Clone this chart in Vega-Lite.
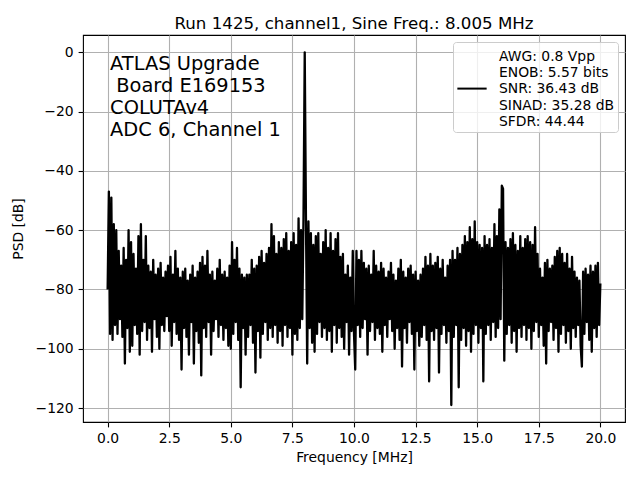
{
  "$schema": "https://vega.github.io/schema/vega-lite/v6.json",
  "width": 542,
  "height": 387,
  "autosize": {"type": "none"},
  "padding": {"left": 83, "top": 35, "right": 15, "bottom": 58},
  "background": "white",
  "config": {
    "font": "DejaVu Sans",
    "view": {"stroke": "black", "strokeWidth": 1.1},
    "axis": {
      "domain": false,
      "grid": true,
      "gridColor": "#b0b0b0",
      "gridWidth": 1.1,
      "tickColor": "black",
      "tickSize": 4.9,
      "tickWidth": 1.1,
      "labelPadding": 4.9,
      "labelFont": "DejaVu Sans",
      "labelFontSize": 13.9,
      "labelColor": "black",
      "titleFont": "DejaVu Sans",
      "titleFontSize": 13.9,
      "titleFontWeight": "normal",
      "titleColor": "black",
      "titlePadding": 5
    }
  },
  "title": {
    "text": "Run 1425, channel1, Sine Freq.: 8.005 MHz",
    "font": "DejaVu Sans",
    "fontSize": 16.67,
    "fontWeight": "normal",
    "color": "black",
    "anchor": "middle",
    "baseline": "alphabetic",
    "offset": 8,
    "dy": 19
  },
  "data": {
    "values": [
      {"f": 0.00, "p": -80}, {"f": 0.05, "p": -47}, {"f": 0.10, "p": -95}, {"f": 0.15, "p": -49}, {"f": 0.20, "p": -97},
      {"f": 0.25, "p": -58}, {"f": 0.30, "p": -92}, {"f": 0.35, "p": -60}, {"f": 0.40, "p": -95}, {"f": 0.45, "p": -67},
      {"f": 0.50, "p": -90}, {"f": 0.55, "p": -72}, {"f": 0.60, "p": -96}, {"f": 0.65, "p": -66}, {"f": 0.70, "p": -105},
      {"f": 0.75, "p": -70}, {"f": 0.80, "p": -93}, {"f": 0.85, "p": -60}, {"f": 0.90, "p": -101}, {"f": 0.95, "p": -64},
      {"f": 1.00, "p": -99}, {"f": 1.05, "p": -68}, {"f": 1.10, "p": -92}, {"f": 1.15, "p": -73}, {"f": 1.20, "p": -95},
      {"f": 1.25, "p": -62}, {"f": 1.30, "p": -102}, {"f": 1.35, "p": -58}, {"f": 1.40, "p": -94}, {"f": 1.45, "p": -70},
      {"f": 1.50, "p": -91}, {"f": 1.55, "p": -62}, {"f": 1.60, "p": -97}, {"f": 1.65, "p": -72}, {"f": 1.70, "p": -93},
      {"f": 1.75, "p": -74}, {"f": 1.80, "p": -101}, {"f": 1.85, "p": -70}, {"f": 1.90, "p": -90}, {"f": 1.95, "p": -75},
      {"f": 2.00, "p": -96}, {"f": 2.05, "p": -73}, {"f": 2.10, "p": -100}, {"f": 2.15, "p": -71}, {"f": 2.20, "p": -92},
      {"f": 2.25, "p": -76}, {"f": 2.30, "p": -94}, {"f": 2.35, "p": -74}, {"f": 2.40, "p": -89}, {"f": 2.45, "p": -72},
      {"f": 2.50, "p": -94}, {"f": 2.55, "p": -69}, {"f": 2.60, "p": -99}, {"f": 2.65, "p": -75}, {"f": 2.70, "p": -91},
      {"f": 2.75, "p": -67}, {"f": 2.80, "p": -95}, {"f": 2.85, "p": -73}, {"f": 2.90, "p": -97}, {"f": 2.95, "p": -76},
      {"f": 3.00, "p": -107}, {"f": 3.05, "p": -74}, {"f": 3.10, "p": -93}, {"f": 3.15, "p": -73}, {"f": 3.20, "p": -96},
      {"f": 3.25, "p": -77}, {"f": 3.30, "p": -102}, {"f": 3.35, "p": -75}, {"f": 3.40, "p": -91}, {"f": 3.45, "p": -72},
      {"f": 3.50, "p": -105}, {"f": 3.55, "p": -76}, {"f": 3.60, "p": -94}, {"f": 3.65, "p": -74}, {"f": 3.70, "p": -98},
      {"f": 3.75, "p": -71}, {"f": 3.80, "p": -109}, {"f": 3.85, "p": -69}, {"f": 3.90, "p": -93}, {"f": 3.95, "p": -72},
      {"f": 4.00, "p": -96}, {"f": 4.05, "p": -67}, {"f": 4.10, "p": -91}, {"f": 4.15, "p": -75}, {"f": 4.20, "p": -102},
      {"f": 4.25, "p": -74}, {"f": 4.30, "p": -94}, {"f": 4.35, "p": -77}, {"f": 4.40, "p": -90}, {"f": 4.45, "p": -73},
      {"f": 4.50, "p": -96}, {"f": 4.55, "p": -70}, {"f": 4.60, "p": -92}, {"f": 4.65, "p": -75}, {"f": 4.70, "p": -97},
      {"f": 4.75, "p": -74}, {"f": 4.80, "p": -93}, {"f": 4.85, "p": -76}, {"f": 4.90, "p": -99}, {"f": 4.95, "p": -72},
      {"f": 5.00, "p": -100}, {"f": 5.05, "p": -64}, {"f": 5.10, "p": -95}, {"f": 5.15, "p": -70}, {"f": 5.20, "p": -91},
      {"f": 5.25, "p": -66}, {"f": 5.30, "p": -97}, {"f": 5.35, "p": -73}, {"f": 5.40, "p": -113}, {"f": 5.45, "p": -75},
      {"f": 5.50, "p": -93}, {"f": 5.55, "p": -76}, {"f": 5.60, "p": -102}, {"f": 5.65, "p": -75}, {"f": 5.70, "p": -96},
      {"f": 5.75, "p": -75}, {"f": 5.80, "p": -92}, {"f": 5.85, "p": -70}, {"f": 5.90, "p": -98}, {"f": 5.95, "p": -73},
      {"f": 6.00, "p": -108}, {"f": 6.05, "p": -72}, {"f": 6.10, "p": -94}, {"f": 6.15, "p": -69}, {"f": 6.20, "p": -103},
      {"f": 6.25, "p": -67}, {"f": 6.30, "p": -95}, {"f": 6.35, "p": -71}, {"f": 6.40, "p": -91}, {"f": 6.45, "p": -68},
      {"f": 6.50, "p": -97}, {"f": 6.55, "p": -66}, {"f": 6.60, "p": -93}, {"f": 6.65, "p": -58}, {"f": 6.70, "p": -96},
      {"f": 6.75, "p": -62}, {"f": 6.80, "p": -92}, {"f": 6.85, "p": -68}, {"f": 6.90, "p": -98}, {"f": 6.95, "p": -64},
      {"f": 7.00, "p": -94}, {"f": 7.05, "p": -66}, {"f": 7.10, "p": -99}, {"f": 7.15, "p": -63}, {"f": 7.20, "p": -92},
      {"f": 7.25, "p": -61}, {"f": 7.30, "p": -96}, {"f": 7.35, "p": -67}, {"f": 7.40, "p": -93}, {"f": 7.45, "p": -64},
      {"f": 7.50, "p": -102}, {"f": 7.55, "p": -61}, {"f": 7.60, "p": -95}, {"f": 7.65, "p": -65}, {"f": 7.70, "p": -97},
      {"f": 7.75, "p": -56}, {"f": 7.80, "p": -93}, {"f": 7.85, "p": -60}, {"f": 7.90, "p": -90}, {"f": 7.95, "p": -56},
      {"f": 8.00, "p": 0}, {"f": 8.05, "p": -56}, {"f": 8.10, "p": -105}, {"f": 8.15, "p": -57}, {"f": 8.20, "p": -93},
      {"f": 8.25, "p": -61}, {"f": 8.30, "p": -98}, {"f": 8.35, "p": -65}, {"f": 8.40, "p": -101}, {"f": 8.45, "p": -62},
      {"f": 8.50, "p": -95}, {"f": 8.55, "p": -61}, {"f": 8.60, "p": -91}, {"f": 8.65, "p": -68}, {"f": 8.70, "p": -96},
      {"f": 8.75, "p": -64}, {"f": 8.80, "p": -93}, {"f": 8.85, "p": -60}, {"f": 8.90, "p": -97}, {"f": 8.95, "p": -66},
      {"f": 9.00, "p": -94}, {"f": 9.05, "p": -61}, {"f": 9.10, "p": -101}, {"f": 9.15, "p": -67}, {"f": 9.20, "p": -92},
      {"f": 9.25, "p": -63}, {"f": 9.30, "p": -98}, {"f": 9.35, "p": -61}, {"f": 9.40, "p": -93}, {"f": 9.45, "p": -69},
      {"f": 9.50, "p": -96}, {"f": 9.55, "p": -68}, {"f": 9.60, "p": -100}, {"f": 9.65, "p": -75}, {"f": 9.70, "p": -91},
      {"f": 9.75, "p": -72}, {"f": 9.80, "p": -102}, {"f": 9.85, "p": -76}, {"f": 9.90, "p": -94}, {"f": 9.95, "p": -67},
      {"f": 10.00, "p": -95}, {"f": 10.05, "p": -107}, {"f": 10.10, "p": -67}, {"f": 10.15, "p": -92}, {"f": 10.20, "p": -70},
      {"f": 10.25, "p": -96}, {"f": 10.30, "p": -67}, {"f": 10.35, "p": -93}, {"f": 10.40, "p": -71}, {"f": 10.45, "p": -90},
      {"f": 10.50, "p": -73}, {"f": 10.55, "p": -102}, {"f": 10.60, "p": -72}, {"f": 10.65, "p": -94}, {"f": 10.70, "p": -75},
      {"f": 10.75, "p": -91}, {"f": 10.80, "p": -67}, {"f": 10.85, "p": -97}, {"f": 10.90, "p": -72}, {"f": 10.95, "p": -93},
      {"f": 11.00, "p": -74}, {"f": 11.05, "p": -95}, {"f": 11.10, "p": -71}, {"f": 11.15, "p": -101}, {"f": 11.20, "p": -73},
      {"f": 11.25, "p": -92}, {"f": 11.30, "p": -76}, {"f": 11.35, "p": -96}, {"f": 11.40, "p": -74}, {"f": 11.45, "p": -90},
      {"f": 11.50, "p": -71}, {"f": 11.55, "p": -94}, {"f": 11.60, "p": -75}, {"f": 11.65, "p": -100}, {"f": 11.70, "p": -77},
      {"f": 11.75, "p": -93}, {"f": 11.80, "p": -73}, {"f": 11.85, "p": -97}, {"f": 11.90, "p": -70}, {"f": 11.95, "p": -106},
      {"f": 12.00, "p": -74}, {"f": 12.05, "p": -93}, {"f": 12.10, "p": -76}, {"f": 12.15, "p": -98}, {"f": 12.20, "p": -73},
      {"f": 12.25, "p": -91}, {"f": 12.30, "p": -72}, {"f": 12.35, "p": -95}, {"f": 12.40, "p": -75}, {"f": 12.45, "p": -107},
      {"f": 12.50, "p": -74}, {"f": 12.55, "p": -94}, {"f": 12.60, "p": -77}, {"f": 12.65, "p": -99}, {"f": 12.70, "p": -75},
      {"f": 12.75, "p": -96}, {"f": 12.80, "p": -73}, {"f": 12.85, "p": -92}, {"f": 12.90, "p": -69}, {"f": 12.95, "p": -97},
      {"f": 13.00, "p": -72}, {"f": 13.05, "p": -111}, {"f": 13.10, "p": -68}, {"f": 13.15, "p": -94}, {"f": 13.20, "p": -72},
      {"f": 13.25, "p": -97}, {"f": 13.30, "p": -71}, {"f": 13.35, "p": -93}, {"f": 13.40, "p": -69}, {"f": 13.45, "p": -108},
      {"f": 13.50, "p": -73}, {"f": 13.55, "p": -95}, {"f": 13.60, "p": -70}, {"f": 13.65, "p": -92}, {"f": 13.70, "p": -76},
      {"f": 13.75, "p": -98}, {"f": 13.80, "p": -72}, {"f": 13.85, "p": -94}, {"f": 13.90, "p": -70}, {"f": 13.95, "p": -119},
      {"f": 14.00, "p": -67}, {"f": 14.05, "p": -96}, {"f": 14.10, "p": -70}, {"f": 14.15, "p": -92}, {"f": 14.20, "p": -66},
      {"f": 14.25, "p": -113}, {"f": 14.30, "p": -68}, {"f": 14.35, "p": -97}, {"f": 14.40, "p": -65}, {"f": 14.45, "p": -93},
      {"f": 14.50, "p": -62}, {"f": 14.55, "p": -99}, {"f": 14.60, "p": -64}, {"f": 14.65, "p": -94}, {"f": 14.70, "p": -59},
      {"f": 14.75, "p": -101}, {"f": 14.80, "p": -63}, {"f": 14.85, "p": -95}, {"f": 14.90, "p": -57}, {"f": 14.95, "p": -92},
      {"f": 15.00, "p": -64}, {"f": 15.05, "p": -98}, {"f": 15.10, "p": -65}, {"f": 15.15, "p": -93}, {"f": 15.20, "p": -66},
      {"f": 15.25, "p": -111}, {"f": 15.30, "p": -62}, {"f": 15.35, "p": -95}, {"f": 15.40, "p": -65}, {"f": 15.45, "p": -92},
      {"f": 15.50, "p": -63}, {"f": 15.55, "p": -97}, {"f": 15.60, "p": -66}, {"f": 15.65, "p": -91}, {"f": 15.70, "p": -58},
      {"f": 15.75, "p": -96}, {"f": 15.80, "p": -62}, {"f": 15.85, "p": -93}, {"f": 15.90, "p": -53}, {"f": 15.95, "p": -90},
      {"f": 16.00, "p": -45}, {"f": 16.05, "p": -46}, {"f": 16.10, "p": -104}, {"f": 16.15, "p": -64}, {"f": 16.20, "p": -95},
      {"f": 16.25, "p": -66}, {"f": 16.30, "p": -92}, {"f": 16.35, "p": -63}, {"f": 16.40, "p": -98}, {"f": 16.45, "p": -61},
      {"f": 16.50, "p": -94}, {"f": 16.55, "p": -65}, {"f": 16.60, "p": -101}, {"f": 16.65, "p": -67}, {"f": 16.70, "p": -93},
      {"f": 16.75, "p": -62}, {"f": 16.80, "p": -96}, {"f": 16.85, "p": -66}, {"f": 16.90, "p": -92}, {"f": 16.95, "p": -63},
      {"f": 17.00, "p": -97}, {"f": 17.05, "p": -62}, {"f": 17.10, "p": -93}, {"f": 17.15, "p": -64}, {"f": 17.20, "p": -100},
      {"f": 17.25, "p": -65}, {"f": 17.30, "p": -94}, {"f": 17.35, "p": -59}, {"f": 17.40, "p": -91}, {"f": 17.45, "p": -68},
      {"f": 17.50, "p": -96}, {"f": 17.55, "p": -73}, {"f": 17.60, "p": -92}, {"f": 17.65, "p": -76}, {"f": 17.70, "p": -99},
      {"f": 17.75, "p": -71}, {"f": 17.80, "p": -105}, {"f": 17.85, "p": -70}, {"f": 17.90, "p": -94}, {"f": 17.95, "p": -73},
      {"f": 18.00, "p": -91}, {"f": 18.05, "p": -72}, {"f": 18.10, "p": -97}, {"f": 18.15, "p": -69}, {"f": 18.20, "p": -93},
      {"f": 18.25, "p": -67}, {"f": 18.30, "p": -101}, {"f": 18.35, "p": -66}, {"f": 18.40, "p": -95}, {"f": 18.45, "p": -68},
      {"f": 18.50, "p": -92}, {"f": 18.55, "p": -71}, {"f": 18.60, "p": -98}, {"f": 18.65, "p": -68}, {"f": 18.70, "p": -94},
      {"f": 18.75, "p": -73}, {"f": 18.80, "p": -100}, {"f": 18.85, "p": -69}, {"f": 18.90, "p": -93}, {"f": 18.95, "p": -74},
      {"f": 19.00, "p": -96}, {"f": 19.05, "p": -76}, {"f": 19.10, "p": -92}, {"f": 19.15, "p": -77}, {"f": 19.20, "p": -99},
      {"f": 19.25, "p": -106}, {"f": 19.30, "p": -74}, {"f": 19.35, "p": -95}, {"f": 19.40, "p": -73}, {"f": 19.45, "p": -91},
      {"f": 19.50, "p": -75}, {"f": 19.55, "p": -97}, {"f": 19.60, "p": -72}, {"f": 19.65, "p": -101}, {"f": 19.70, "p": -74},
      {"f": 19.75, "p": -93}, {"f": 19.80, "p": -72}, {"f": 19.85, "p": -96}, {"f": 19.90, "p": -71}, {"f": 19.95, "p": -92},
      {"f": 20.00, "p": -78}
    ]
  },
  "layer": [
    {
      "mark": {"type": "line", "strokeWidth": 2.3, "strokeJoin": "round", "clip": true},
      "encoding": {
        "x": {
          "field": "f",
          "type": "quantitative",
          "title": "Frequency [MHz]",
          "scale": {"domain": [-1, 21], "nice": false, "zero": false},
          "axis": {"values": [0, 2.5, 5, 7.5, 10, 12.5, 15, 17.5, 20], "format": ".1f"}
        },
        "y": {
          "field": "p",
          "type": "quantitative",
          "title": "PSD [dB]",
          "scale": {"domain": [-124.7, 5.83], "nice": false, "zero": false},
          "axis": {"values": [-120, -100, -80, -60, -40, -20, 0], "format": "d", "titlePadding": 10}
        },
        "color": {
          "datum": "AWG",
          "scale": {"range": ["black"]},
          "legend": {
            "title": null,
            "orient": "top-right",
            "offset": 7,
            "padding": 3,
            "fillColor": "rgba(255,255,255,0.8)",
            "strokeColor": "#cccccc",
            "cornerRadius": 3,
            "symbolType": "stroke",
            "symbolSize": 858,
            "symbolStrokeWidth": 2,
            "labelFont": "DejaVu Sans",
            "labelFontSize": 13.9,
            "labelColor": "black",
            "labelBaseline": "alphabetic",
            "labelOffset": 11,
            "labelLimit": 0,
            "labelExpr": "['AWG: 0.8 Vpp', 'ENOB: 5.57 bits', 'SNR: 36.43 dB', 'SINAD: 35.28 dB', 'SFDR: 44.44']",
            "encode": {
              "labels": {"update": {"lineHeight": {"value": 16.2}}},
              "symbols": {"update": {"y": {"value": 43.6}}}
            }
          }
        }
      }
    },
    {
      "data": {"values": [{}]},
      "mark": {
        "type": "text",
        "align": "left",
        "baseline": "alphabetic",
        "font": "DejaVu Sans",
        "fontSize": 19.4,
        "lineHeight": 22,
        "lineBreak": "\n",
        "color": "black"
      },
      "encoding": {
        "x": {"datum": 0.1, "type": "quantitative"},
        "y": {"datum": -5.97, "type": "quantitative"},
        "text": {"value": "ATLAS Upgrade\n\u200b\u00a0Board E169153\nCOLUTAv4\nADC 6, Channel 1"}
      }
    }
  ]
}
